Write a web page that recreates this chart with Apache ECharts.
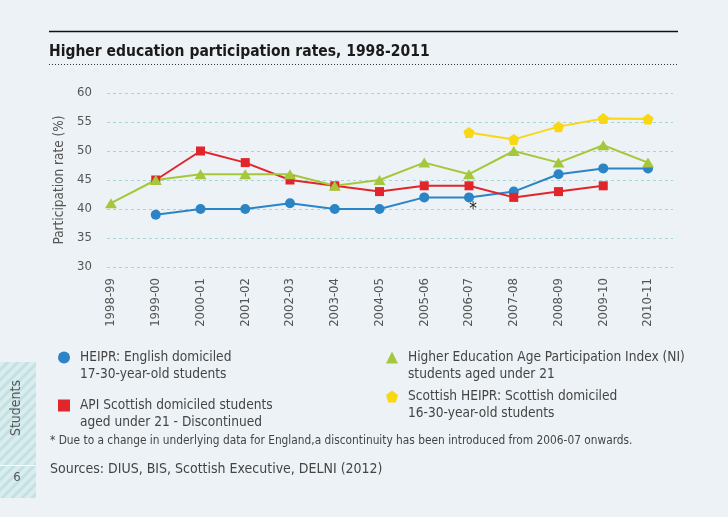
<!DOCTYPE html>
<html>
<head>
<meta charset="utf-8">
<script src="https://cdn.jsdelivr.net/npm/echarts@6/dist/echarts.min.js"></script>
<style>
html,body{margin:0;padding:0;background:#ecf2f5;}
#c{width:728px;height:517px;}
</style>
</head>
<body>
<div id="c"></div>
<script>
const categories = ['1998-99','1999-00','2000-01','2001-02','2002-03','2003-04','2004-05','2005-06','2006-07','2007-08','2008-09','2009-10','2010-11'];
const heiprEnglish = [null,39,40,40,41,40,40,42,42,43,46,47,47];
const apiScottish = [null,45,50,48,45,44,43,44,44,42,43,44,null];
const niIndex = [41,45,46,46,46,44,45,48,46,50,48,51,48];
const scottishHeipr = [null,null,null,null,null,null,null,null,53.2,52,54.2,55.6,55.5];
const seriesNames = [
  'HEIPR: English domiciled\n17-30-year-old students',
  'API Scottish domiciled students\naged under 21 - Discontinued',
  'Higher Education Age Participation Index (NI)\nstudents aged under 21',
  'Scottish HEIPR: Scottish domiciled\n16-30-year-old students'
];
const yMin = 30, yMax = 60, yStep = 5;
const discontinuityIndex = 8;

const FONT = "'Liberation Sans Narrow','DejaVu Sans Condensed',Roboto,sans-serif";
const pentagon = 'path://M5,0 L10,3.8 L8.1,10 L1.9,10 L0,3.8 Z';
const symbols = ['circle','rect','triangle',pentagon];
const colors = ['#2a84c6','#e2252b','#a5c83a','#f9d812'];

// hatch pattern for side tab
const pc = document.createElement('canvas');
pc.width = 10; pc.height = 10;
const g = pc.getContext('2d');
g.fillStyle = '#d9ecee'; g.fillRect(0,0,10,10);
g.strokeStyle = '#c3e1e3'; g.lineWidth = 3;
g.beginPath(); g.moveTo(-2,12); g.lineTo(12,-2); g.moveTo(-7,7); g.lineTo(7,-7); g.moveTo(3,17); g.lineTo(17,3); g.stroke();

const chart = echarts.init(document.getElementById('c'), null, {renderer:'canvas'});

const blueData = heiprEnglish.map((v,i)=> i===discontinuityIndex ? {value:v, label:{show:true, formatter:'*', position:'bottom', offset:[4,-6], fontSize:17, color:'#222', fontFamily:FONT}} : v);

function legendAt(idx, left, top){
  return {
    data:[{name:seriesNames[idx], icon:symbols[idx], itemStyle:{color:colors[idx]}}],
    left:left, top:top, padding:0, orient:'vertical',
    itemWidth:12, itemHeight:12, selectedMode:false,
    formatter: function(name){
      return '\n' + name.split('\n').map(s => '{t|' + s + '}').join('\n');
    },
    textStyle:{fontFamily:FONT, fontSize:13.6, color:'#444', lineHeight:17,
      rich:{t:{fontFamily:FONT, fontSize:13.6, color:'#444', lineHeight:17, padding:[0,0,0,5]}}}
  };
}

chart.setOption({
  backgroundColor:'#ecf2f5',
  animation:false,
  title:{text:'Higher education participation rates, 1998-2011', left:44, top:39,
    textStyle:{fontFamily:FONT, fontSize:15.5, fontWeight:'bold', color:'#1a1a1a'}},
  grid:[
    {left:107, right:55, top:93, bottom:250},
    {left:111, right:80, top:93, bottom:250}
  ],
  xAxis:[
    {gridIndex:0, type:'value', show:false, min:0, max:1},
    {gridIndex:1, type:'category', data:categories, boundaryGap:false,
      axisLine:{show:false}, axisTick:{show:false}, splitLine:{show:false},
      axisLabel:{rotate:90, margin:11, fontFamily:FONT, fontSize:13, color:'#555'}}
  ],
  yAxis:[
    {gridIndex:0, type:'value', min:yMin, max:yMax, interval:yStep,
      name:'Participation rate (%)', nameLocation:'middle', nameGap:37, nameRotate:90,
      nameTextStyle:{fontFamily:FONT, fontSize:13.5, color:'#555'},
      axisLine:{show:false}, axisTick:{show:false},
      axisLabel:{margin:15, fontFamily:FONT, fontSize:13, color:'#555'},
      splitLine:{lineStyle:{color:'#a3d5dc', type:[3,3], width:1}}},
    {gridIndex:1, type:'value', min:yMin, max:yMax, interval:yStep, show:false, splitLine:{show:false}}
  ],
  legend:[
    legendAt(0, 58, 332),
    legendAt(1, 58, 380),
    legendAt(2, 386, 332),
    legendAt(3, 386, 371)
  ],
  series:[
    {name:seriesNames[0], type:'line', xAxisIndex:1, yAxisIndex:1, data:blueData,
      symbol:'circle', symbolSize:10, lineStyle:{width:2, color:colors[0]}, itemStyle:{color:colors[0]}},
    {name:seriesNames[1], type:'line', xAxisIndex:1, yAxisIndex:1, data:apiScottish,
      symbol:'rect', symbolSize:9, lineStyle:{width:2, color:colors[1]}, itemStyle:{color:colors[1]}},
    {name:seriesNames[2], type:'line', xAxisIndex:1, yAxisIndex:1, data:niIndex,
      symbol:'triangle', symbolSize:[12,10], lineStyle:{width:2, color:colors[2]}, itemStyle:{color:colors[2]}},
    {name:seriesNames[3], type:'line', xAxisIndex:1, yAxisIndex:1, data:scottishHeipr,
      symbol:pentagon, symbolSize:11, lineStyle:{width:2, color:colors[3]}, itemStyle:{color:colors[3]}}
  ],
  graphic:[
    {type:'line', shape:{x1:49, y1:31.5, x2:678, y2:31.5}, style:{stroke:'#111', lineWidth:1.5}, silent:true},
    {type:'line', shape:{x1:49, y1:64.5, x2:678, y2:64.5}, style:{stroke:'#333', lineWidth:1, lineDash:[1,2]}, silent:true},
    {type:'rect', shape:{x:0, y:362, width:36, height:136}, style:{fill:{image:pc, repeat:'repeat'}}, silent:true},
    {type:'line', shape:{x1:0, y1:465.5, x2:36, y2:465.5}, style:{stroke:'#ffffff', lineWidth:1}, silent:true},
    {type:'text', x:16, y:408, rotation:Math.PI/2, style:{text:'Students', font:'14px '+FONT, fill:'#555', align:'center', verticalAlign:'middle'}, silent:true},
    {type:'text', x:17, y:478, style:{text:'6', font:'13px '+FONT, fill:'#555', align:'center', verticalAlign:'middle'}, silent:true},
    {type:'text', x:50, y:441, style:{text:'* Due to a change in underlying data for England,a discontinuity has been introduced from 2006-07 onwards.', font:'11.8px '+FONT, fill:'#444', verticalAlign:'middle'}, silent:true},
    {type:'text', x:50, y:469, style:{text:'Sources: DIUS, BIS, Scottish Executive, DELNI (2012)', font:'14px '+FONT, fill:'#444', verticalAlign:'middle'}, silent:true}
  ]
});
</script>
</body>
</html>
